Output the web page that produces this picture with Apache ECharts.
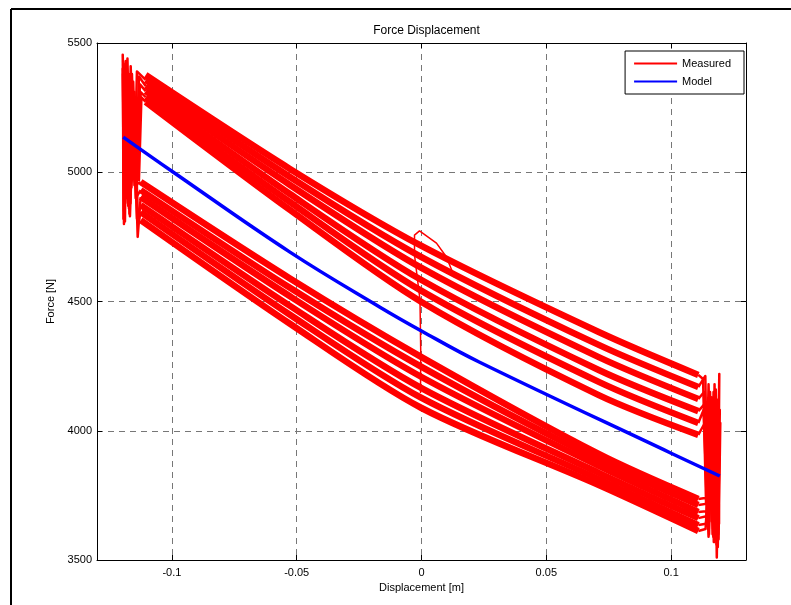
<!DOCTYPE html>
<html><head><meta charset="utf-8">
<script src="https://cdn.jsdelivr.net/npm/echarts@6/dist/echarts.min.js"></script>
<style>html,body{margin:0;padding:0;background:#fff}#c{width:791px;height:605px}</style>
</head><body><div id="c"></div>
<script>
// ---- data ----
const yTicks = [3500, 4000, 4500, 5000, 5500];

// displacement stations of the measured sweeps
const xUpper = [-0.1105, -0.0527, 0, 0.0710, 0.1109];
const xLower = [-0.1125, -0.0527, 0, 0.0710, 0.1109];

// force along the sweeps moving right (upper band)
const upperLines = [
  [5376, 5013, 4715, 4382, 4216],
  [5357, 4982, 4672, 4332, 4169],
  [5334, 4951, 4630, 4285, 4123],
  [5314, 4916, 4583, 4235, 4076],
  [5291, 4885, 4541, 4189, 4030],
  [5272, 4854, 4498, 4138, 3984]
];
// force along the sweeps moving left (lower band)
const lowerLines = [
  [4962, 4589, 4285, 3910, 3736],
  [4931, 4553, 4247, 3887, 3713],
  [4904, 4520, 4208, 3864, 3686],
  [4873, 4483, 4165, 3837, 3662],
  [4846, 4449, 4127, 3813, 3635],
  [4815, 4414, 4088, 3790, 3612]
];
// oscillation at the right reversal
const rightTurns = [
  [[0.1128,4200],[0.1140,3720],[0.1150,4180],[0.1162,3650],[0.1170,4150],[0.1178,3700],[0.1186,4120],[0.1192,3640],[0.1184,4050],[0.1170,3745]],
  [[0.1137,4212],[0.1146,3680],[0.1156,4150],[0.1166,3600],[0.1174,4180],[0.1183,3510],[0.1193,4220],[0.1188,3600],[0.1176,4100],[0.1160,3720]],
  [[0.1132,4150],[0.1144,3640],[0.1158,4100],[0.1168,3620],[0.1180,4120],[0.1188,3600],[0.1195,4080],[0.1181,3580],[0.1165,4050],[0.1150,3690]],
  [[0.1140,4110],[0.1152,3600],[0.1163,4130],[0.1171,3570],[0.1179,4160],[0.1190,3580],[0.1197,4030],[0.1183,3620],[0.1172,4000],[0.1145,3670]],
  [[0.1130,4080],[0.1148,3620],[0.1160,4060],[0.1169,3590],[0.1177,4090],[0.1182,3560],[0.1192,3950],[0.1186,3640],[0.1160,3980],[0.1140,3640]],
  [[0.1135,4030],[0.1150,3590],[0.1163,4000],[0.1174,3570],[0.1181,4040],[0.1187,3550],[0.1194,3980],[0.1178,3620],[0.1158,3940],[0.1138,3620]]
];
// oscillation at the left reversal
const leftTurns = [
  [[-0.1150,4950],[-0.1165,5410],[-0.1175,4870],[-0.1184,5430],[-0.1190,4830],[-0.1197,5455],[-0.1180,4900],[-0.1168,5380],[-0.1150,5000],[-0.1140,5390]],
  [[-0.1145,4900],[-0.1160,5380],[-0.1170,4840],[-0.1181,5420],[-0.1188,4810],[-0.1195,5430],[-0.1176,4880],[-0.1160,5360],[-0.1145,4980],[-0.1132,5370]],
  [[-0.1137,4750],[-0.1155,5350],[-0.1166,4880],[-0.1178,5440],[-0.1192,4850],[-0.1197,5400],[-0.1172,4920],[-0.1155,5330],[-0.1140,4950],[-0.1128,5340]],
  [[-0.1140,4820],[-0.1158,5300],[-0.1172,4860],[-0.1186,5420],[-0.1194,4820],[-0.1196,5380],[-0.1166,4950],[-0.1150,5310],[-0.1136,5000],[-0.1125,5310]],
  [[-0.1135,4800],[-0.1152,5280],[-0.1168,4830],[-0.1183,5410],[-0.1192,4800],[-0.1195,5420],[-0.1162,4940],[-0.1146,5290],[-0.1132,4970],[-0.1122,5290]]
];
// start-up transient near zero displacement
const startX = [-0.0004, -0.0003, -0.0006, -0.0028, -0.0028, -0.0008, 0.0060, 0.0100, 0.0132];
const startF = [4146, 4300, 4506, 4680, 4757, 4773, 4726, 4672, 4595];

// model curve
const modelX = [-0.1195, -0.0994, -0.0527, -0.0168, 0, 0.0231, 0.0998, 0.1195];
const modelF = [5136, 5000, 4691, 4479, 4386, 4266, 3914, 3825];

// ---- chart ----
const RED = '#ff0000', BLUE = '#0000ff';
const FONT = 'Liberation Sans, Arial, sans-serif';
function redSeries(data, width, smooth) {
  return { name: 'Measured', type: 'line', data: data, symbol: 'none', showSymbol: false,
    smooth: smooth || false, lineStyle: { color: RED, width: width, join: 'round' }, itemStyle: { color: RED },
    animation: false, z: 2 };
}
const series = [];
upperLines.forEach(l => series.push(redSeries(xUpper.map((x, i) => [x, l[i]]), 6.5, 0.3)));
lowerLines.forEach(l => series.push(redSeries(xLower.map((x, i) => [x, l[i]]), 6.5, 0.3)));
rightTurns.forEach((t, i) => {
  series.push(redSeries([[xUpper[4], upperLines[i][4]]].concat(t, [[xLower[4], lowerLines[i][4]]]), 2.5));
});
leftTurns.forEach((t, i) => {
  series.push(redSeries([[xLower[0], lowerLines[i][0]]].concat(t, [[xUpper[0], upperLines[i + 1][0]]]), 2.5));
});
series.push(redSeries(startX.map((x, i) => [x, startF[i]]), 1.5));
series.push({ name: 'Model', type: 'line', data: modelX.map((x, i) => [x, modelF[i]]), symbol: 'none',
  showSymbol: false, smooth: 0.4, lineStyle: { color: BLUE, width: 3.5 }, itemStyle: { color: BLUE },
  animation: false, z: 5 });

const gridLine = { show: true, lineStyle: { type: [6, 5], color: '#777', width: 1 } };
const chart = echarts.init(document.getElementById('c'), null, { renderer: 'canvas' });
chart.setOption({
  animation: false,
  backgroundColor: '#fff',
  title: { text: 'Force Displacement', left: 421.5, textAlign: 'center', top: 20,
    textStyle: { fontFamily: FONT, fontSize: 12, fontWeight: 'normal', color: '#000' } },
  legend: { data: [{ name: 'Measured', icon: 'rect' }, { name: 'Model', icon: 'rect' }],
    orient: 'vertical', right: 47, top: 51,
    backgroundColor: '#fff', borderColor: '#000', borderWidth: 1, padding: [6, 13, 6, 9],
    itemWidth: 43, itemHeight: 2, itemGap: 5,
    textStyle: { fontFamily: FONT, fontSize: 11, color: '#000', lineHeight: 13 } },
  grid: { left: 97, right: 45, top: 43, bottom: 45, containLabel: false },
  xAxis: [
    { type: 'value', min: -0.13, max: 0.13, splitNumber: 5, position: 'bottom',
      axisLine: { onZero: false, lineStyle: { color: '#000', width: 1 } },
      axisTick: { inside: true, length: 5, lineStyle: { color: '#000' } },
      axisLabel: { showMinLabel: false, showMaxLabel: false, color: '#000', fontSize: 11, margin: 7, fontFamily: FONT },
      splitLine: gridLine,
      name: 'Displacement [m]', nameLocation: 'middle', nameGap: 20,
      nameTextStyle: { fontFamily: FONT, fontSize: 11, color: '#000' } },
    { type: 'value', min: -0.13, max: 0.13, splitNumber: 5, position: 'top',
      axisLine: { onZero: false, lineStyle: { color: '#000', width: 1 } },
      axisTick: { inside: true, length: 5, lineStyle: { color: '#000' } },
      axisLabel: { show: false }, splitLine: { show: false } }
  ],
  yAxis: [
    { type: 'value', min: yTicks[0], max: yTicks[yTicks.length - 1], interval: 500, position: 'left',
      axisLine: { onZero: false, lineStyle: { color: '#000', width: 1 } },
      axisTick: { inside: true, length: 5, lineStyle: { color: '#000' } },
      axisLabel: { color: '#000', fontSize: 11, margin: 5, fontFamily: FONT, formatter: v => String(v) },
      splitLine: gridLine,
      name: 'Force [N]', nameLocation: 'middle', nameGap: 41,
      nameTextStyle: { fontFamily: FONT, fontSize: 11, color: '#000' } },
    { type: 'value', min: yTicks[0], max: yTicks[yTicks.length - 1], interval: 500, position: 'right',
      axisLine: { onZero: false, lineStyle: { color: '#000', width: 1 } },
      axisTick: { inside: true, length: 5, lineStyle: { color: '#000' } },
      axisLabel: { show: false }, splitLine: { show: false } }
  ],
  graphic: [
    { type: 'line', shape: { x1: 11, y1: 9, x2: 791, y2: 9 }, style: { stroke: '#000', lineWidth: 2 }, silent: true },
    { type: 'line', shape: { x1: 11, y1: 9, x2: 11, y2: 605 }, style: { stroke: '#000', lineWidth: 2 }, silent: true }
  ],
  series: series
});
</script></body></html>
